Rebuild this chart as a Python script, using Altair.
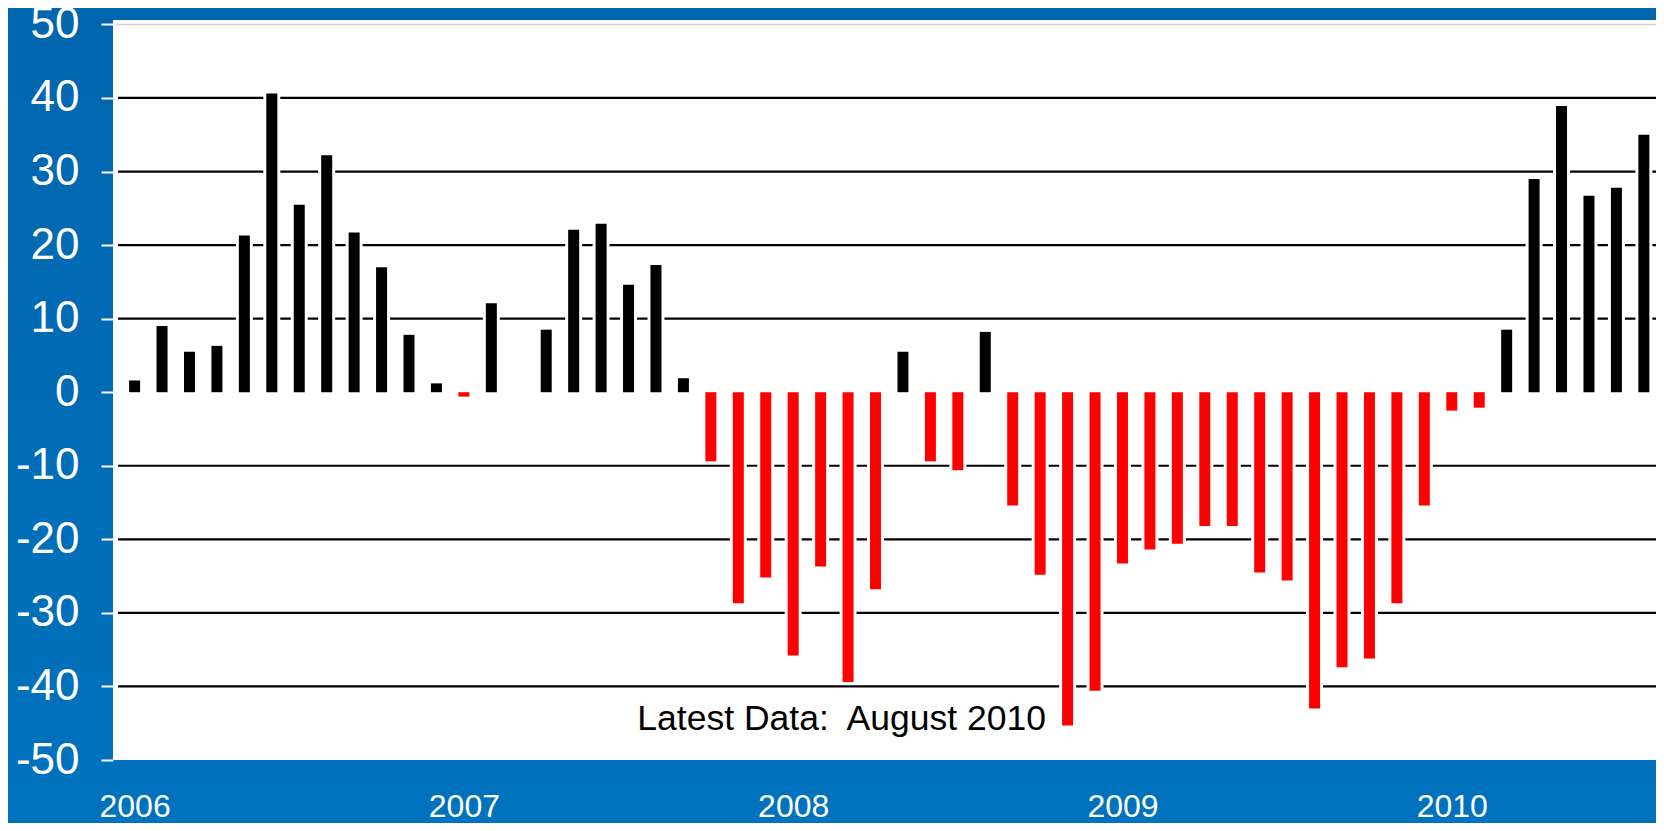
import altair as alt
import pandas as pd

# ---- data (monthly, Jan 2006 .. Aug 2010) ----
years = ["2006", "2007", "2008", "2009", "2010"]
values = [1.6, 9.0, 5.5, 6.3, 21.3, 40.6, 25.5, 32.2, 21.7, 17.0, 7.8, 1.2,
          -0.6, 12.1, 0.0, 8.5, 22.1, 22.9, 14.6, 17.3, 1.9, -9.4, -28.7, -25.2,
          -35.8, -23.7, -39.4, -26.8, 5.5, -9.4, -10.6, 8.2, -15.4, -24.8, -45.3, -40.6,
          -23.3, -21.4, -20.6, -18.2, -18.2, -24.5, -25.6, -43.0, -37.4, -36.2, -28.7, -15.4,
          -2.5, -2.1, 8.5, 29.0, 38.9, 26.7, 27.8, 35.0]
y_ticks = [-50, -40, -30, -20, -10, 0, 10, 20, 30, 40, 50]
grid_values = [-40, -30, -20, -10, 10, 20, 30, 40]
top_line = [50]
note_text = ["Latest Data:\u00a0 August 2010"]

# ---- layout ----
W, H = 1543, 740
PAD = {"left": 105, "top": 12, "right": 0, "bottom": 63}
X_DOMAIN = [-0.605, 55.26]
Y_DOMAIN = [-50, 50.6]

df = pd.DataFrame({
    "idx": list(range(len(values))),
    "value": values,
})
df["color"] = ["#000000" if v >= 0 else "#FF0000" for v in values]

xs = alt.Scale(domain=X_DOMAIN, nice=False, zero=False)
ys = alt.Scale(domain=Y_DOMAIN, nice=False, zero=False)

label_expr = "[" + ",".join("'%s'" % y for y in years) + "][datum.value / 12]"

x_axis = alt.Axis(
    values=[12 * i for i in range(len(years))],
    labelExpr=label_expr,
    title=None, grid=False, domain=False, ticks=False, tickSize=0,
    labelColor="white", labelFont="Liberation Sans", labelFontSize=32,
    labelPadding=31, labelFlush=False, labelOverlap=False, zindex=1,
)
y_axis = alt.Axis(
    values=y_ticks,
    labelExpr="'' + datum.value",
    title=None, grid=False, domain=False,
    ticks=True, tickSize=12, tickWidth=2, tickColor="white",
    labelColor="white", labelFont="Liberation Sans", labelFontSize=44,
    labelPadding=22, labelOverlap=False, zindex=1,
)

one = pd.DataFrame({"k": [0]})

bg = alt.Chart(one).mark_rect(
    color=alt.LinearGradient(
        gradient="linear",
        stops=[alt.GradientStop(color="#0066AE", offset=0),
               alt.GradientStop(color="#0072BE", offset=1)],
        x1=0, x2=0, y1=0, y2=1,
    )
).encode(
    x=alt.value(-PAD["left"]), x2=alt.value(W + PAD["right"]),
    y=alt.value(-PAD["top"]), y2=alt.value(H + PAD["bottom"]),
)

plot_bg = alt.Chart(one).mark_rect(color="white").encode(
    x=alt.value(0), x2=alt.value(W), y=alt.value(0), y2=alt.value(H)
)

grid = alt.Chart(pd.DataFrame({"g": grid_values})).mark_rule(
    color="black", strokeWidth=2.2
).encode(
    y=alt.Y("g:Q", scale=ys, axis=y_axis),
    x=alt.value(5), x2=alt.value(W),
)

top = alt.Chart(pd.DataFrame({"g": top_line})).mark_rule(
    color="#cfcfcf", strokeWidth=1.5
).encode(
    y=alt.Y("g:Q", scale=ys, axis=y_axis),
    x=alt.value(4), x2=alt.value(W),
)

backing = alt.Chart(df).mark_bar(size=17, color="white").encode(
    x=alt.X("idx:Q", scale=xs, axis=x_axis),
    y=alt.Y("value:Q", scale=ys, axis=y_axis),
    y2=alt.datum(0),
)

bars = alt.Chart(df).mark_bar(size=11).encode(
    x=alt.X("idx:Q", scale=xs, axis=x_axis),
    y=alt.Y("value:Q", scale=ys, axis=y_axis),
    y2=alt.datum(0),
    color=alt.Color("color:N", scale=None, legend=None),
)

note = alt.Chart(pd.DataFrame({"t": note_text, "x": [18.32], "y": [-45.92]})).mark_text(
    align="left", baseline="alphabetic", fontSize=35.5,
    font="Liberation Sans", color="black",
).encode(
    x=alt.X("x:Q", scale=xs, axis=x_axis),
    y=alt.Y("y:Q", scale=ys, axis=y_axis),
    text="t:N",
)

chart = alt.layer(bg, plot_bg, grid, top, backing, bars, note).properties(
    width=W, height=H,
    padding=PAD,
    autosize=alt.AutoSizeParams(type="none"),
    background="#006BB5",
).configure_view(stroke=None, fill=None)

chart.save("out.html", embed_options={"renderer": "svg", "actions": False})
